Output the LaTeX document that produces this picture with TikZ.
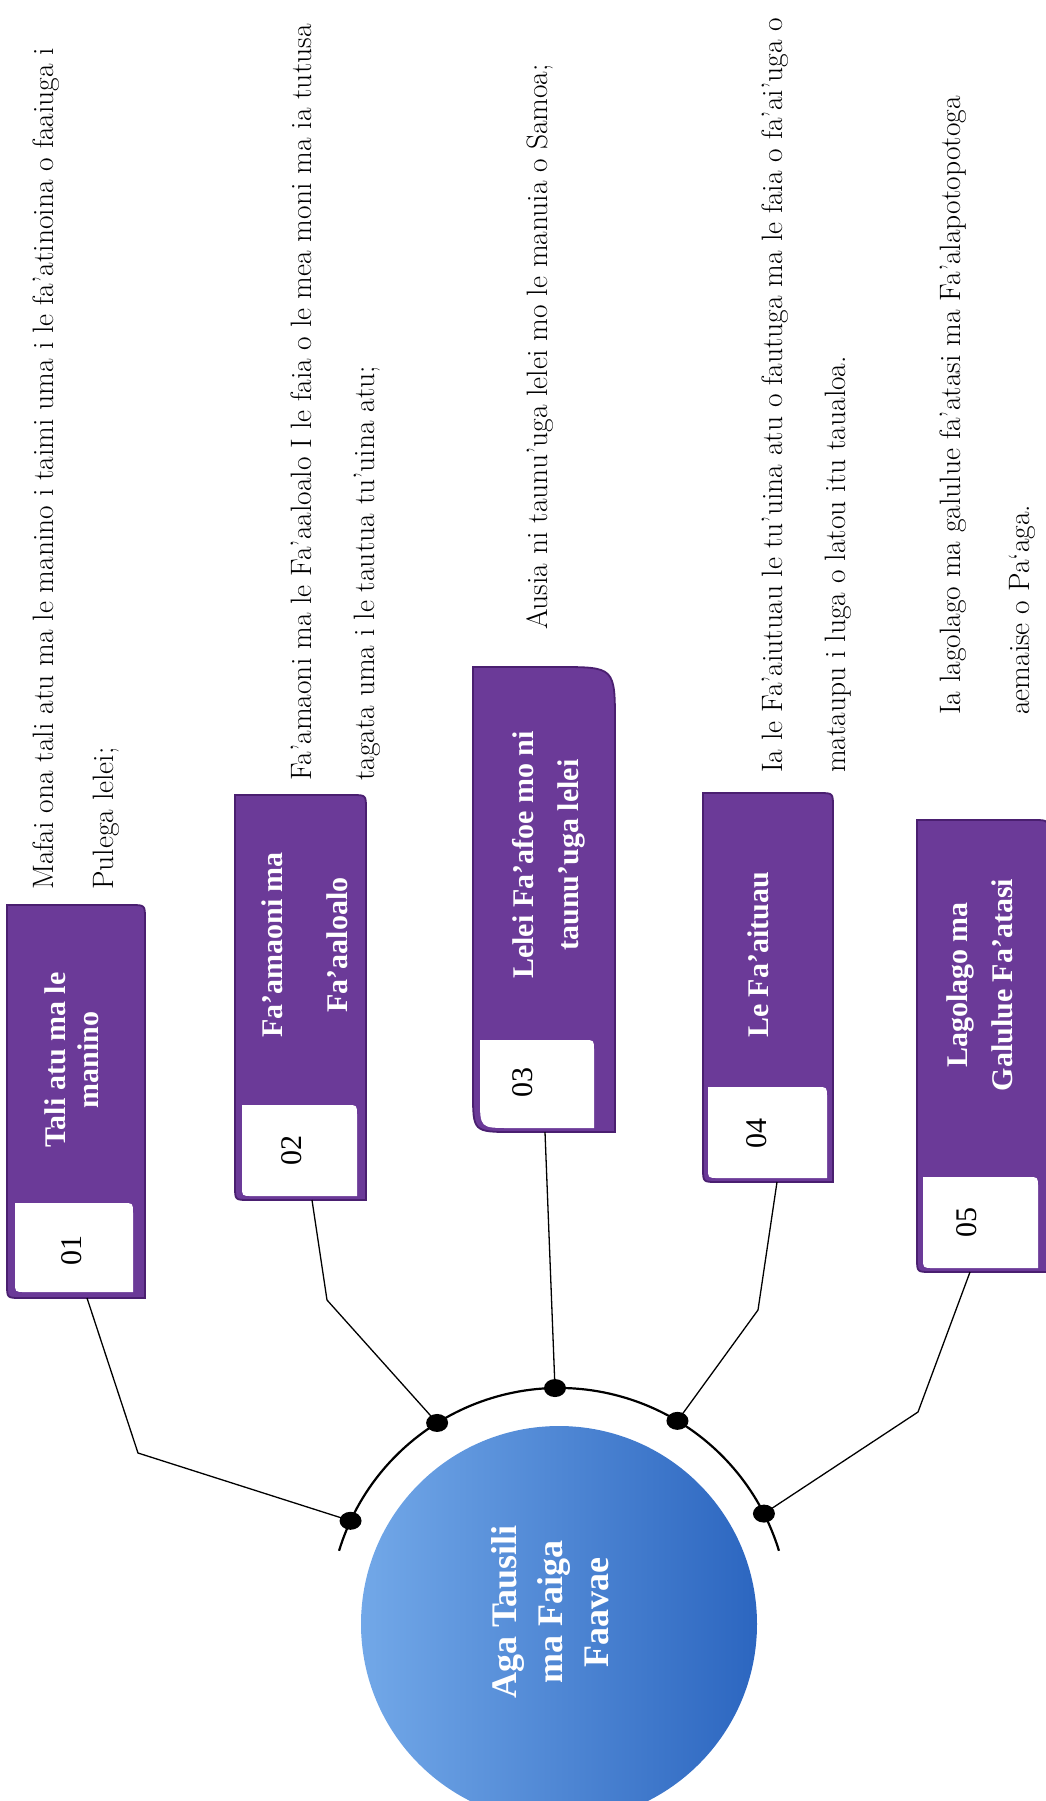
\documentclass[tikz,border=0pt]{standalone}
\usepackage{fontspec}
\newfontfamily\timesf{Liberation Serif}
\usetikzlibrary{calc,shapes.geometric}
\definecolor{boxpurple}{HTML}{6B3A98}
\definecolor{boxedge}{HTML}{4A1F70}
\definecolor{hubL}{HTML}{72A8E8}
\definecolor{hubR}{HTML}{2C66C0}
\newcommand{\cardbox}[7]{%
  \draw[#7] (#1,#3) -- ({#2-#5},#3) .. controls (#2,#3) .. (#2,{#3+#5})
    -- (#2,#4) -- ({#1+#6},#4) .. controls (#1,#4) .. (#1,{#4-#6}) -- cycle;}
\tikzset{
  boxshape/.style={fill=boxpurple, draw=boxedge, line width=1.8pt},
  tabshape/.style={fill=white, draw=none},
  titletext/.style={rotate=90, align=center, text=white, inner sep=0pt,
    font=\timesf\bfseries\fontsize{30}{33}\selectfont},
  numtext/.style={rotate=90, inner sep=0pt, font=\timesf\fontsize{30}{34}\selectfont},
  desctext/.style={rotate=90, anchor=west, inner sep=0pt, font=\fontsize{29.5}{34}\selectfont},
  hubtext/.style={rotate=90, align=center, text=white, inner sep=0pt,
    font=\timesf\bfseries\fontsize{36}{46}\selectfont},
  dotnode/.style={ellipse, fill=black, minimum width=22pt, minimum height=18pt, inner sep=0pt},
  arcline/.style={line width=2.2pt},
  connector/.style={line width=1.3pt}
}
\begin{document}
\begin{tikzpicture}[x=1pt, y=-1pt]
\useasboundingbox (0,0) rectangle (1046,1801);

% central hub
\node[circle, minimum size=396pt, inner sep=0pt, left color=hubL, right color=hubR] (hub) at (559,1624) {};
\node[hubtext] (hubt) at (550,1612) {Aga Tausili\\ma Faiga\\Faavae};

% arc and dots
\coordinate (C) at (559,1618);
\draw[arcline] ($(C)+(-163:230)$) arc[start angle=-163, end angle=-17, radius=230];
\node[dotnode] (d1) at ($(C)+(-155:230)$) {};
\node[dotnode] (d2) at ($(C)+(-122:230)$) {};
\node[dotnode] (d3) at ($(C)+(-91:230)$) {};
\node[dotnode] (d4) at ($(C)+(-59:230)$) {};
\node[dotnode] (d5) at ($(C)+(-27:230)$) {};

% boxes
\cardbox{7}{145}{905}{1298}{14}{14}{boxshape}
\cardbox{15}{133}{1203}{1292}{10}{10}{tabshape}
\cardbox{235}{366}{795}{1200}{14}{14}{boxshape}
\cardbox{242}{357}{1105}{1196}{10}{10}{tabshape}
\cardbox{473}{615}{667}{1132}{57}{40}{boxshape}
\cardbox{480}{594}{1040}{1128}{10}{30}{tabshape}
\cardbox{703}{833}{793}{1182}{14}{14}{boxshape}
\cardbox{708}{827}{1087}{1178}{10}{10}{tabshape}
\cardbox{917}{1048}{820}{1272}{14}{14}{boxshape}
\cardbox{923}{1038}{1177}{1268}{10}{10}{tabshape}

% titles
\node[titletext] (t1) at (72,1060) {Tali atu ma le\\manino};
\node[titletext, font=\timesf\bfseries\fontsize{30}{65}\selectfont] (t2) at (305,945) {Fa’amaoni ma\\Fa’aaloalo};
\node[titletext, font=\timesf\bfseries\fontsize{30}{45}\selectfont] (t3) at (549,855) {Lelei Fa’afoe mo ni\\taunu’uga lelei};
\node[titletext] (t4) at (758,955) {Le Fa’aituau};
\node[titletext, font=\timesf\bfseries\fontsize{30}{45}\selectfont] (t5) at (980,985) {Lagolago ma\\Galulue Fa’atasi};

% numbers
\node[numtext] (n1) at (72,1250) {01};
\node[numtext] (n2) at (292,1150) {02};
\node[numtext] (n3) at (523,1082) {03};
\node[numtext] (n4) at (757,1133) {04};
\node[numtext] (n5) at (967,1222) {05};

% connectors
\coordinate (b1) at (87,1298);   \coordinate (k1) at (138,1453);
\coordinate (b2) at (312,1200);  \coordinate (k2) at (327,1300);
\coordinate (b3) at (545,1132);
\coordinate (b4) at (777,1182);  \coordinate (k4) at (758,1310);
\coordinate (b5) at (970,1272);  \coordinate (k5) at (918,1412);
\draw[connector] (b1) -- (k1) -- (d1.center);
\draw[connector] (b2) -- (k2) -- (d2.center);
\draw[connector] (b3) -- (d3.center);
\draw[connector] (b4) -- (k4) -- (d4.center);
\draw[connector] (b5) -- (k5) -- (d5.center);

% descriptions
\node[desctext] (e1a) at (46,890) {Mafai ona tali atu ma le manino i taimi uma i le fa’atinoina o faaiuga i};
\node[desctext] (e1b) at (106,890) {Pulega lelei;};
\node[desctext] (e2a) at (301,781) {Fa’amaoni ma le Fa’aaloalo I le faia o le mea moni ma ia tutusa};
\node[desctext] (e2b) at (367,781) {tagata uma i le tautua tu’uina atu;};
\node[desctext] (e3) at (540,630) {Ausia ni taunu’uga lelei mo le manuia o Samoa;};
\node[desctext] (e4a) at (775,773) {Ia le Fa’aiutuau le tu’uina atu o fautuga ma le faia o fa’ai’uga o};
\node[desctext] (e4b) at (838,773) {mataupu i luga o latou itu taualoa.};
\node[desctext] (e5a) at (953,715) {Ia lagolago ma galulue fa’atasi ma Fa’alapotopotoga};
\node[desctext] (e5b) at (1022,715) {aemaise o Pa‘aga.};
\end{tikzpicture}
\end{document}
